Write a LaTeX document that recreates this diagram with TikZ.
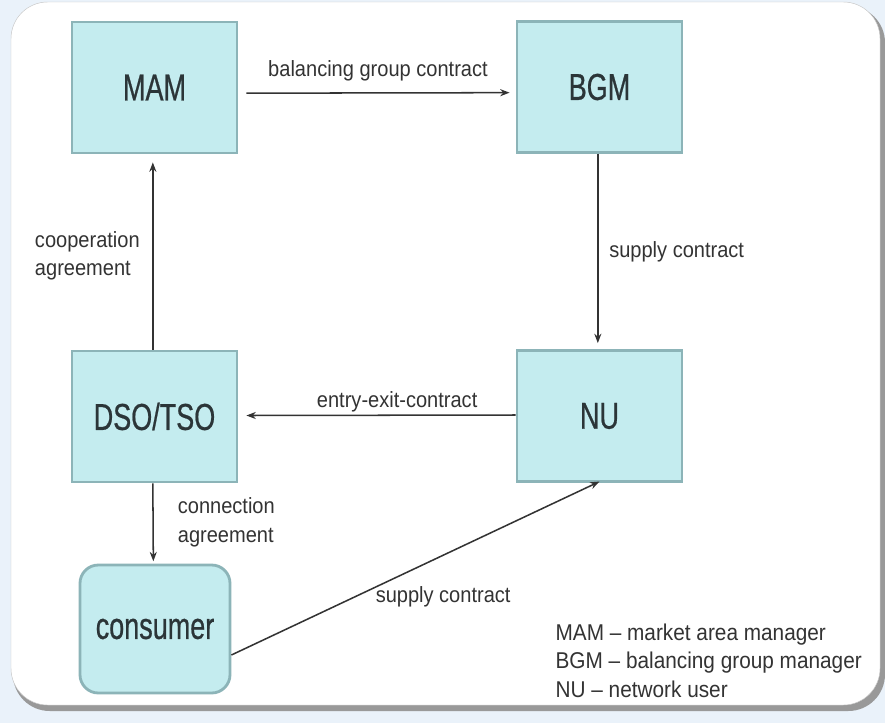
\documentclass[tikz,border=0pt]{standalone}
\usepackage{fontspec}
\setmainfont[FakeStretch=0.91]{Liberation Sans}
\newfontfamily\boxfont[FakeStretch=0.72, FakeBold=0.6]{Liberation Sans}
\usetikzlibrary{arrows.meta, positioning}

\definecolor{panelblue}{HTML}{EAF2FA}
\definecolor{boxfill}{HTML}{C4ECEF}
\definecolor{boxline}{HTML}{8CB4B8}
\definecolor{inkgray}{HTML}{2B3538}

\begin{document}
\begin{tikzpicture}[x=0.03cm, y=-0.03cm, >={Stealth[length=8pt,width=6pt]},
    actor/.style={draw=boxline, line width=2.4pt, fill=boxfill,
        minimum width=4.95cm, minimum height=3.93cm,
        font=\boxfont\fontsize{32}{38}\selectfont, text=inkgray},
    relation/.style={->, draw=black!80, line width=1.3pt},
    lbl/.style={font=\fontsize{18.8}{24}\selectfont, text=black!80, inner sep=2pt}]

    % background and panel
    \fill[panelblue] (0,0) rectangle (885,723);
    \fill[black!40, rounded corners=1.1cm] (13,6) rectangle (885,711);
    \filldraw[white, draw=black!22, rounded corners=1.1cm] (11,2) rectangle (880,705);

    % parties
    \node[actor] (mam) at (154.5,87.5) {MAM};
    \node[actor] (bgm) at (599.5,87) {BGM};
    \node[actor] (dso) at (154.5,416.5) {DSO/TSO};
    \node[actor] (nu) at (599.5,416) {NU};
    \node[actor, minimum width=4.5cm, minimum height=3.84cm,
          rounded corners=0.55cm] (consumer) at (155,629) {consumer};

    % contracts
    \draw[relation] ([xshift=0.24cm,yshift=-0.17cm]mam.east)
        -- ([xshift=-0.18cm,yshift=-0.17cm]bgm.west)
        node[lbl, midway, above=0.25cm] {balancing group contract};
    \draw[relation] ([xshift=-0.05cm]bgm.south) -- ([xshift=-0.05cm,yshift=0.18cm]nu.north)
        node[lbl, pos=0.52, right=0.25cm] {supply contract};
    \draw[relation] ([yshift=0.03cm]nu.west) -- ([xshift=0.24cm,yshift=0.03cm]dso.east)
        node[lbl, pos=0.44, above=0cm] {entry-exit-contract};
    \draw[relation] ([xshift=-0.05cm]dso.north) -- ([xshift=-0.05cm,yshift=-0.24cm]mam.south)
        node[lbl, midway, left=0.3cm, align=left] {cooperation\\agreement};
    \draw[relation] ([xshift=-0.05cm]dso.south) -- ([xshift=-0.05cm,yshift=0.07cm]consumer.north)
        node[lbl, midway, right=0.65cm, align=left] {connection\\agreement};
    \draw[relation] ([yshift=-0.78cm]consumer.east) -- ([yshift=0.04cm]nu.south)
        node[lbl, pos=0.4, anchor=north west, xshift=-0.18cm, yshift=0.08cm] {supply contract};

    % abbreviations
    \node[lbl, anchor=north west, align=left, font=\fontsize{19.5}{24.3}\selectfont]
        (legend) at (553,621) {MAM -- market area manager\\BGM -- balancing group manager\\NU -- network user};
\end{tikzpicture}
\end{document}
